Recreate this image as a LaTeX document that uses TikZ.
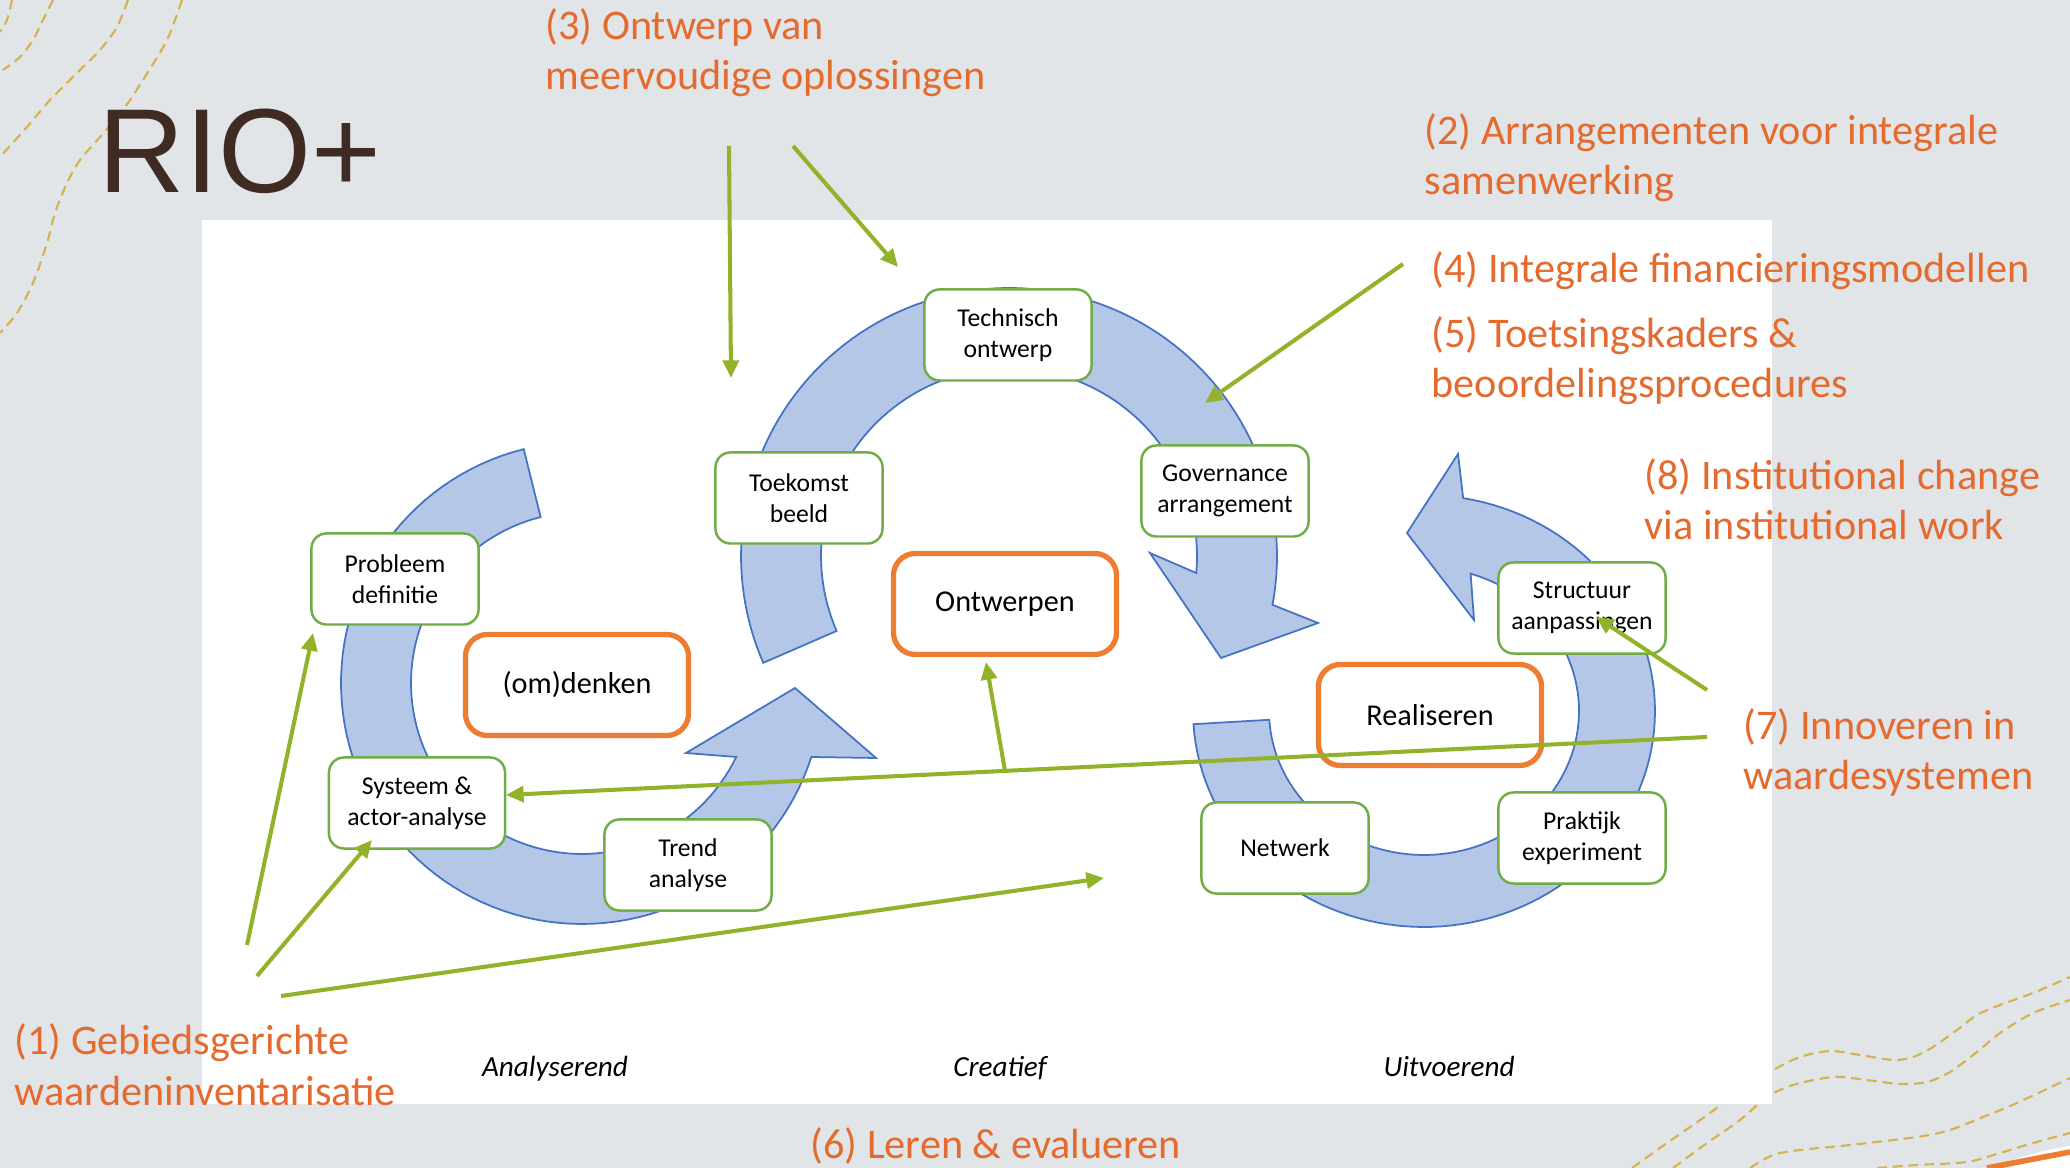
\documentclass[tikz,border=0pt]{standalone}
\usepackage{fontspec}
\setmainfont{Carlito}
\newfontfamily\riofont{Liberation Sans}
\usetikzlibrary{arrows.meta,calc}

\definecolor{bggrey}{HTML}{E1E5E8}
\definecolor{ringfill}{HTML}{B4C7E7}
\definecolor{ringline}{HTML}{4472C4}
\definecolor{boxgreen}{HTML}{70AD47}
\definecolor{boxorange}{HTML}{ED7D31}
\definecolor{labelorange}{HTML}{E46A2E}
\definecolor{arrowgreen}{HTML}{92B22A}
\definecolor{titlebrown}{HTML}{3F2B23}
\definecolor{gold}{HTML}{D6B24F}

\tikzset{
  ring/.style={fill=ringfill, draw=ringline, line width=0.5pt, line join=miter},
  stepbox/.style={draw=boxgreen, fill=white, line width=0.7pt, rounded corners=0.15cm,
    minimum height=0.91cm, minimum width=1.67cm, inner sep=0pt, align=center,
    font=\fontsize{7.3}{8.9}\selectfont},
  phasebox/.style={draw=boxorange, fill=white, line width=1.5pt, rounded corners=0.22cm,
    minimum width=2.23cm, minimum height=1.01cm, inner sep=0pt,
    font=\fontsize{8.6}{10}\selectfont},
  lab/.style={text=labelorange, anchor=base west, inner sep=0pt, align=left,
    font=\fontsize{12}{14.3}\selectfont},
  phase/.style={anchor=base, inner sep=0pt, font=\itshape\fontsize{8.3}{10}\selectfont},
  conn/.style={draw=arrowgreen, line width=1.15pt, -{Triangle[length=5pt,width=4.5pt]}},
  deco/.style={draw=gold, line width=0.6pt, dash pattern=on 2.8pt off 1.7pt}
}

\begin{document}
\begin{tikzpicture}[x=0.01cm,y=-0.01cm]
\useasboundingbox (0,0) rectangle (2070,1168);
\fill[bggrey] (0,0) rectangle (2070,1168);

% decorative dashed curves (top left)
\draw[deco] plot[smooth] coordinates {(12,0) (7,20) (0,32)};
\draw[deco] plot[smooth] coordinates {(53,0) (43,20) (33,40) (20,57) (3,70)};
\draw[deco] plot[smooth] coordinates {(128,0) (117,27) (100,50) (77,73) (50,100) (27,127) (0,157)};
\draw[deco] plot[smooth] coordinates {(182,0) (167,40) (143,80) (123,110) (100,137) (80,160) (67,183) (55,213) (47,243) (33,283) (17,313) (0,333)};
% decorative dashed curves (bottom right)
\draw[deco] plot[smooth] coordinates {(1632,1168) (1667,1143) (1710,1113) (1750,1083) (1773,1070) (1800,1057) (1830,1051) (1860,1055) (1893,1060) (1913,1057) (1933,1047) (1957,1030) (1977,1015) (2000,1005) (2033,993) (2070,977)};
\draw[deco] plot[smooth] coordinates {(1673,1168) (1707,1143) (1740,1120) (1767,1097) (1793,1085) (1833,1077) (1867,1080) (1900,1084) (1927,1082) (1950,1072) (1977,1052) (2000,1033) (2033,1013) (2070,1000)};
\draw[deco] plot[smooth] coordinates {(1750,1168) (1773,1155) (1800,1150) (1850,1145) (1917,1137) (1950,1130) (1983,1117) (2017,1103) (2070,1078)};
\draw[deco] plot[smooth] coordinates {(1877,1168) (1917,1165) (1967,1162) (2000,1153) (2033,1143) (2070,1133)};
\fill[white] (1995,1168) .. controls (2020,1156) and (2045,1150) .. (2070,1146) -- (2070,1168) -- cycle;
\draw[boxorange, line width=1.6pt] (1987,1168) -- (2070,1152);

% white panel
\fill[white] (202,220) rectangle (1772,1104);

% circular arrows
\filldraw[ring] plot[domain=104:342.12, samples=90, variable=\t] ({582+241*cos(\t)},{683-241*sin(\t)})
  -- (876,758) -- (795,688) -- (686,753)
  -- plot[domain=334.36:104, samples=90, variable=\t] ({582+171*cos(\t)},{683-171*sin(\t)}) -- cycle;
\filldraw[ring] plot[domain=203.5:-10.5, samples=100, variable=\t] ({1009+268*cos(\t)},{556-268*sin(\t)})
  -- (1318,623) -- (1221,658) -- (1150,553)
  -- plot[domain=-5.2:203.5, samples=100, variable=\t] ({1009+188*cos(\t)},{556-188*sin(\t)}) -- cycle;
\filldraw[ring] plot[domain=183.5:440.24, samples=100, variable=\t] ({1424+231*cos(\t)},{711-216*sin(\t)})
  -- (1458,454) -- (1407,533) -- (1474,620)
  -- plot[domain=432.5:183.5, samples=100, variable=\t] ({1424+155*cos(\t)},{711-144*sin(\t)}) -- cycle;

% step boxes
\node[stepbox] (tech) at (1008,335) {Technisch\\ontwerp};
\node[stepbox] (toek) at (799,498) {Toekomst\\beeld};
\node[stepbox] (gov) at (1225,491) {Governance\\arrangement};
\node[stepbox] (prob) at (395,579) {Probleem\\definitie};
\node[stepbox, minimum width=1.76cm] (sys) at (417,803) {Systeem \&\\actor-analyse};
\node[stepbox] (trend) at (688,865) {Trend\\analyse};
\node[stepbox] (struct) at (1582,608) {Structuur\\aanpassingen};
\node[stepbox] (netw) at (1285,848) {Netwerk};
\node[stepbox] (prak) at (1582,838) {Praktijk\\experiment};

% phase boxes
\node[phasebox] (omd) at (577,685) {(om)denken};
\node[phasebox] (ontw) at (1005,604) {Ontwerpen};
\node[phasebox] (real) at (1430,715) {Realiseren};

% title
\node[font=\riofont\fontsize{34}{40}\selectfont, text=titlebrown, anchor=base west, inner sep=0pt] (rio) at (98,193) {RIO+};

% orange labels (base = baseline of last line)
\node[lab] (l3) at (545,90) {(3) Ontwerp van\\meervoudige oplossingen};
\node[lab] (l2) at (1424,195) {(2) Arrangementen voor integrale\\samenwerking};
\node[lab] (l4) at (1431,283) {(4) Integrale financieringsmodellen};
\node[lab] (l5) at (1431,398) {(5) Toetsingskaders \&\\beoordelingsprocedures};
\node[lab] (l8) at (1644,540) {(8) Institutional change\\via institutional work};
\node[lab] (l7) at (1743,790) {(7) Innoveren in\\waardesystemen};
\node[lab] (l1) at (14,1105) {(1) Gebiedsgerichte\\waardeninventarisatie};
\node[lab] (l6) at (810,1158) {(6) Leren \& evalueren};

% phase labels
\node[phase] (an) at (555,1077) {Analyserend};
\node[phase] (cr) at (1000,1077) {Creatief};
\node[phase] (ui) at (1449,1077) {Uitvoerend};

% connector end points
\coordinate (s1a) at (247,945);  \coordinate (e1a) at (313,633);
\coordinate (s1b) at (257,976);  \coordinate (e1b) at (372,840);
\coordinate (s1c) at (281,996);  \coordinate (e1c) at (1104,878);
\coordinate (s3a) at (729,146);  \coordinate (e3a) at (731,378);
\coordinate (s3b) at (793,146);  \coordinate (e3b) at (898,267);
\coordinate (s4)  at (1403,264); \coordinate (e4)  at (1205,403);
\coordinate (s7a) at (1707,690); \coordinate (e7a) at (1596,617);
\coordinate (s7b) at (1707,737); \coordinate (e7b) at (506,795);
\coordinate (s7c) at ($(s7b)!0.5845!(e7b)$); \coordinate (e7c) at (986,662);

% connectors
\draw[conn] (s1a) -- (e1a);
\draw[conn] (s1b) -- (e1b);
\draw[conn] (s1c) -- (e1c);
\draw[conn] (s3a) -- (e3a);
\draw[conn] (s3b) -- (e3b);
\draw[conn] (s4) -- (e4);
\draw[conn] (s7a) -- (e7a);
\draw[conn] (s7b) -- (e7b);
\draw[conn] (s7c) -- (e7c);
\end{tikzpicture}
\end{document}
